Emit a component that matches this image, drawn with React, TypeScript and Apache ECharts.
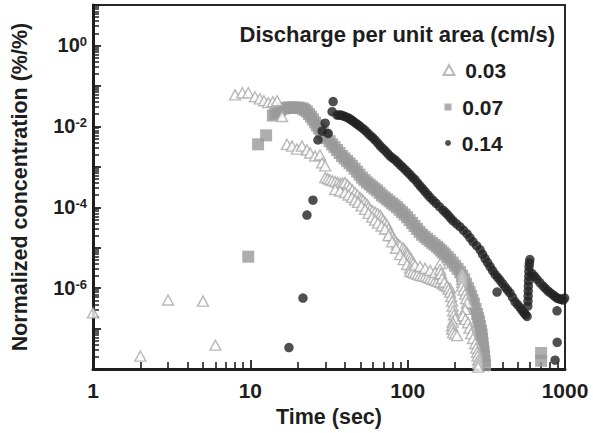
import React, { useEffect, useRef } from "react";
import * as echarts from "echarts";

// ---- data (time in s, normalized concentration in %/%) ----
const seriesNames = ["0.03", "0.07", "0.14"];
const xTickLabels = ["1", "10", "100", "1000"];
const yLabelExponents = [0, -2, -4, -6];
const legendTitle = "Discharge per unit area (cm/s)";
const xAxisTitle = "Time (sec)";
const yAxisTitle = "Normalized concentration (%/%)";

const q003: [number, number][] = [
  [1, 2.45e-7], [2, 2.1e-8], [3, 5.1e-7], [5, 4.8e-7], [6, 3.9e-8],
  [8.0, 0.06], [8.9, 0.0675], [9.7, 0.0675], [10.7, 0.054], [11.5, 0.048], [12.2, 0.043], [13.0, 0.0385], [13.9, 0.0407], [14.8, 0.043], [15.9, 0.0175],
  [17.1, 0.0036], [18.4, 0.00325], [19.8, 0.00275], [21.3, 0.00325], [22.9, 0.0026], [24.0, 0.0022], [25.8, 0.00185], [27.7, 0.00196], [28.6, 0.00125], [29.9, 0.00106],
  [29.9, 5.4e-4], [31.0, 5.1e-4], [32.1, 4.8e-4], [33.3, 4.54e-4], [34.6, 4.3e-4], [35.9, 4.07e-4], [37.2, 3.85e-4], [38.6, 3.96e-4], [40.0, 4.07e-4], [41.5, 3.53e-4], [43.0, 3.07e-4], [44.6, 2.67e-4], [46.3, 2.32e-4], [48.0, 2.01e-4], [49.8, 1.75e-4], [50.9, 1.61e-4], [52.1, 1.48e-4], [53.6, 1.32e-4], [55.2, 1.18e-4], [56.4, 1.02e-4], [57.7, 8.9e-5], [59.9, 8.2e-5], [62.1, 7.55e-5], [64.4, 6.95e-5], [66.8, 6.4e-5], [68.3, 5.5e-5], [69.8, 4.8e-5], [71.9, 4.18e-5], [74.0, 3.64e-5], [75.6, 2.9e-5], [77.3, 2.32e-5], [79.6, 1.96e-5], [82.0, 1.66e-5], [83.8, 1.44e-5], [85.6, 1.25e-5], [87.5, 1.18e-5], [89.5, 1.12e-5], [93.5, 1.0e-5], [95.6, 8.9e-6], [97.7, 8.0e-6], [99.1, 7.3e-6], [100.6, 6.75e-6], [102.8, 6.0e-6], [105.1, 5.4e-6], [106.6, 4.7e-6], [108.2, 4.07e-6],
  [34.6, 2.75e-4], [37.2, 2.53e-4], [40.0, 2.32e-4], [42.1, 2.01e-4], [44.3, 1.75e-4], [46.3, 1.52e-4], [48.4, 1.32e-4], [50.9, 1.08e-4], [53.6, 8.9e-5], [56.4, 7.1e-5], [59.4, 5.7e-5], [62.0, 4.8e-5], [64.8, 4.07e-5], [68.2, 3.44e-5], [71.8, 2.9e-5], [75.6, 2.0e-5], [79.6, 1.4e-5], [84.4, 9.7e-6], [89.5, 6.75e-6], [94.2, 5.1e-6], [99.1, 3.85e-6], [103.6, 3.16e-6], [108.2, 2.6e-6],
  [103.6, 2.6e-6], [107.4, 2.46e-6], [111.4, 2.32e-6], [115.6, 2.2e-6], [119.9, 2.08e-6], [124.4, 2.02e-6], [129, 1.96e-6], [133.8, 1.85e-6], [138.8, 1.75e-6], [144, 1.66e-6], [149.4, 1.57e-6], [155, 1.48e-6], [160.7, 1.4e-6], [166.7, 1.29e-6], [172.9, 1.18e-6], [179.4, 1.09e-6], [186.1, 1.0e-6],
  [111.4, 3.7e-6], [119.9, 3.44e-6], [129, 3.1e-6], [138.8, 2.75e-6], [149.4, 2.45e-6], [160.7, 2.2e-6],
  [160.7, 4.07e-6], [160.7, 2.9e-6], [163, 2.3e-6], [165.5, 1.75e-6], [171, 1.4e-6], [178.1, 1.12e-6], [182, 9.5e-7], [186.1, 8.0e-7], [189, 6.2e-7], [191.6, 4.8e-7], [193, 3.6e-7], [194.4, 2.75e-7], [197, 2.2e-7], [200.2, 1.75e-7], [193, 1.45e-7], [191.6, 1.18e-7], [192, 9.7e-8], [194.4, 8.0e-8], [200, 7.3e-8], [206.1, 6.75e-8],
  [221.8, 2.32e-6], [221.8, 1.95e-6], [221.8, 1.66e-6], [221.8, 1.37e-6], [221.8, 1.12e-6], [226.5, 9.0e-7], [231.7, 7.1e-7], [235, 5.5e-7], [238.6, 4.3e-7], [232, 3.0e-7], [225, 2.08e-7], [233, 1.7e-7], [242.1, 1.4e-7], [247, 1.03e-7], [253, 7.55e-8], [260, 5.7e-8], [268.2, 4.3e-8], [272, 3.3e-8], [276.2, 2.6e-8], [278, 2.1e-8], [280.3, 1.66e-8], [280.3, 1.36e-8], [280.3, 1.12e-8],
];

const q007: [number, number][] = [
  [9.7, 6.0e-6], [11.2, 3.6e-3], [12.6, 6.0e-3],
  [13.9, 0.0185], [14.4, 0.0207], [15.0, 0.0232], [15.5, 0.0253], [16.1, 0.0275], [16.7, 0.0283], [17.4, 0.0291], [18.0, 0.0291], [18.7, 0.0291], [19.4, 0.0291], [20.1, 0.0291], [20.8, 0.0283], [21.6, 0.0275], [22.2, 0.0253], [22.9, 0.0232], [23.6, 0.0201], [24.3, 0.0175], [25.0, 0.0148], [25.8, 0.0125], [26.5, 0.0105], [27.3, 0.0089], [28.1, 0.0078], [29.0, 0.0068], [29.8, 0.0059], [30.7, 0.0051], [31.9, 0.0043], [33.1, 0.0036], [34.3, 0.00306], [35.6, 0.0026], [36.9, 0.00219], [38.3, 0.00185], [39.7, 0.00161], [41.2, 0.0014], [42.7, 0.00122], [44.3, 0.00106], [46.0, 8.98e-4], [47.7, 7.6e-4], [49.5, 6.4e-4], [51.3, 5.4e-4], [53.2, 4.7e-4], [55.2, 4.1e-4], [57.3, 3.65e-4], [59.4, 3.25e-4], [61.6, 2.9e-4], [63.9, 2.6e-4], [66.3, 2.26e-4], [68.7, 1.96e-4], [71.3, 1.75e-4], [74.0, 1.57e-4], [76.7, 1.4e-4], [79.6, 1.25e-4], [82.5, 1.12e-4], [85.6, 1.0e-4], [88.8, 8.7e-5], [92.1, 7.6e-5], [95.5, 6.6e-5], [99.1, 5.7e-5], [102.8, 4.83e-5], [106.7, 4.1e-5], [110.6, 3.45e-5], [114.7, 2.9e-5], [119, 2.47e-5], [123.5, 2.1e-5], [128.1, 1.87e-5], [132.8, 1.66e-5], [137.8, 1.48e-5], [142.9, 1.32e-5], [148.2, 1.18e-5], [153.8, 1.06e-5], [158.4, 9.5e-6], [163.1, 8.5e-6], [167.9, 7.6e-6], [172.9, 6.8e-6], [179.4, 5.9e-6], [186.1, 5.1e-6], [193, 4.3e-6], [200.2, 3.6e-6], [207.7, 3.0e-6], [215.4, 2.5e-6], [221.8, 2.04e-6], [228.4, 1.66e-6], [235.2, 1.29e-6], [242.1, 1.0e-6], [247.5, 8.0e-7], [253, 6.4e-7], [258.6, 5.1e-7], [264.3, 4.1e-7], [270.2, 3.07e-7], [276.2, 2.3e-7], [280.3, 1.86e-7], [284.4, 1.5e-7], [288.6, 1.16e-7], [292.9, 8.9e-8], [295, 7.1e-8], [297.2, 5.7e-8], [299.4, 4.4e-8], [301.6, 3.4e-8], [303.8, 2.7e-8], [306, 2.1e-8], [308.2, 1.6e-8], [310.5, 1.25e-8],
  [705, 2.5e-8], [705, 1.6e-8],
];

const q014: [number, number][] = [
  [17.6, 3.4e-8], [21.6, 5.7e-7], [22.9, 6.4e-5], [25.0, 1.5e-4], [26.9, 4.6e-3], [28.6, 7.6e-3], [29.9, 1.2e-2], [31.2, 6.7e-3], [33.1, 2.3e-2], [33.6, 4.1e-2],
  [35.6, 1.9e-2], [36.6, 1.9e-2], [37.7, 1.9e-2], [38.8, 1.82e-2], [40.0, 1.75e-2], [41.2, 1.66e-2], [42.4, 1.57e-2], [43.3, 1.48e-2], [44.3, 1.4e-2], [45.6, 1.29e-2], [47.0, 1.18e-2], [48.4, 1.09e-2], [49.8, 1.0e-2], [51.7, 8.9e-3], [53.6, 8.0e-3], [55.6, 6.9e-3], [57.7, 6.0e-3], [59.9, 5.25e-3], [62.1, 4.6e-3], [64.4, 3.9e-3], [66.8, 3.3e-3], [69.3, 2.87e-3], [71.8, 2.5e-3], [74.5, 2.15e-3], [77.3, 1.85e-3], [80.2, 1.65e-3], [83.2, 1.48e-3], [86.3, 1.29e-3], [89.5, 1.12e-3], [92.8, 9.8e-4], [96.3, 8.5e-4], [99.9, 7.4e-4], [103.6, 6.4e-4], [107.4, 5.5e-4], [111.4, 4.8e-4], [115.6, 4.0e-4], [119.9, 3.4e-4], [124.4, 2.89e-4], [129, 2.45e-4], [133.8, 2.07e-4], [138.8, 1.75e-4], [145, 1.48e-4], [151.6, 1.25e-4], [159.5, 1.03e-4], [167.9, 8.5e-5], [174.1, 7.4e-5], [180.6, 6.4e-5], [187.4, 5.4e-5], [194.4, 4.6e-5], [204.6, 3.9e-5], [215.3, 3.3e-5], [226.7, 2.69e-5], [238.6, 2.2e-5], [249.3, 1.75e-5], [260.5, 1.4e-5], [274.2, 1.12e-5], [288.6, 8.9e-6], [299.4, 6.9e-6], [310.6, 5.4e-6], [322.1, 4.3e-6], [334.1, 3.4e-6], [346.5, 2.73e-6], [359.4, 2.2e-6], [372.8, 1.86e-6], [386.7, 1.57e-6], [401.1, 1.29e-6], [416.1, 1.06e-6], [431.6, 8.98e-7], [447.7, 7.6e-7], [464.4, 5.9e-7], [481.7, 4.6e-7], [499.7, 3.9e-7], [518.3, 3.3e-7], [533.7, 2.84e-7], [549.5, 2.45e-7], [561.7, 2.21e-7], [574.2, 2.0e-7],
  [580, 3.6e-7], [582, 4.8e-7], [583, 6.4e-7], [584, 8.5e-7], [585, 1.12e-6], [586.5, 1.5e-6], [588, 1.96e-6], [589.5, 2.6e-6], [591, 3.4e-6], [594, 4.2e-6], [598, 5.1e-6],
  [617.8, 2.3e-6], [640.8, 1.95e-6], [664.7, 1.66e-6], [694.5, 1.36e-6], [725.7, 1.12e-6], [752.7, 9.76e-7], [780.8, 8.5e-7], [810, 7.6e-7], [840.3, 6.8e-7], [865.2, 6.2e-7], [890.9, 5.7e-7], [910.7, 5.55e-7], [930.9, 5.4e-7], [951.5, 5.25e-7], [972.5, 5.1e-7], [995, 5.7e-7],
  [890, 2.75e-7], [892, 4.6e-8], [865, 1.66e-8], [370, 8.0e-7],
];

const FONT = '"Liberation Sans", Arial, Helvetica, sans-serif';
const INK = "#1e1e1e";

function minorLogTicks(fromExp: number, toExp: number): number[] {
  const out: number[] = [];
  for (let e = fromExp; e < toExp; e++) {
    for (let k = 2; k <= 9; k++) out.push(e + Math.log10(k));
  }
  return out;
}

export default function App() {
  const ref = useRef<HTMLDivElement>(null);

  useEffect(() => {
    if (!ref.current) return;
    const chart = echarts.init(ref.current, undefined, { renderer: "svg" });

    const labelText = { fontFamily: FONT, fontWeight: "bold" as const, color: INK };

    const legendCommon = {
      orient: "vertical" as const,
      selectedMode: false,
      formatter: " {name}",
      textStyle: { ...labelText, fontSize: 21 },
    };

    const option: any = {
      animation: false,
      backgroundColor: "#ffffff",
      grid: {
        left: 93,
        top: 5,
        right: 28,
        bottom: 59,
        show: true,
        borderColor: "#2a2a2a",
        borderWidth: 2,
        backgroundColor: "transparent",
      },
      title: {
        text: legendTitle,
        right: 33,
        top: 18,
        textStyle: { ...labelText, fontSize: 22 },
      },
      legend: [
        { ...legendCommon, data: [seriesNames[0]], left: 437.5, top: 54.5, itemWidth: 11, itemHeight: 10 },
        { ...legendCommon, data: [seriesNames[1]], left: 439.5, top: 91.5, itemWidth: 7, itemHeight: 7 },
        { ...legendCommon, data: [seriesNames[2]], left: 440, top: 127.5, itemWidth: 6, itemHeight: 6 },
      ],
      xAxis: [
        {
          type: "log",
          logBase: 10,
          min: 1,
          max: 1000,
          name: xAxisTitle,
          nameLocation: "middle",
          nameGap: 31,
          nameTextStyle: { ...labelText, fontSize: 21.5 },
          axisLine: { show: true, onZero: false, lineStyle: { color: INK, width: 3 } },
          axisTick: { show: true, inside: true, length: 9, lineStyle: { color: INK, width: 1.8 } },
          axisLabel: {
            ...labelText,
            fontSize: 21,
            margin: 11,
            formatter: (v: number) => {
              const e = Math.round(Math.log10(v));
              return xTickLabels[e] ?? "";
            },
          },
          splitLine: { show: false },
          minorTick: { show: false },
        },
        {
          type: "value",
          min: 0,
          max: 3,
          position: "bottom",
          axisLine: { show: false, onZero: false },
          axisLabel: { show: false },
          splitLine: { show: false },
          axisTick: {
            show: true,
            inside: true,
            length: 7,
            lineStyle: { color: INK, width: 1.6 },
            customValues: minorLogTicks(0, 3),
          },
        },
      ],
      yAxis: [
        {
          type: "log",
          logBase: 10,
          min: 1e-8,
          max: 10,
          name: yAxisTitle,
          nameLocation: "middle",
          nameGap: 62,
          nameTextStyle: { ...labelText, fontSize: 21.5 },
          axisLine: { show: true, onZero: false, lineStyle: { color: INK, width: 3 } },
          axisTick: { show: true, inside: true, length: 8, lineStyle: { color: INK, width: 1.8 } },
          axisLabel: {
            margin: 6,
            formatter: (v: number) => {
              const e = Math.round(Math.log10(v));
              return yLabelExponents.includes(e) ? `{b|10}{s|${e}}` : "";
            },
            rich: {
              b: { ...labelText, fontSize: 20 },
              s: { ...labelText, fontSize: 13, verticalAlign: "top" },
            },
          },
          splitLine: { show: false },
          minorTick: { show: false },
        },
        {
          type: "value",
          min: -8,
          max: 1,
          position: "left",
          axisLine: { show: false, onZero: false },
          axisLabel: { show: false },
          splitLine: { show: false },
          axisTick: {
            show: true,
            inside: true,
            length: 6,
            lineStyle: { color: INK, width: 1.5 },
            customValues: minorLogTicks(-8, 1),
          },
        },
      ],
      series: [
        {
          name: seriesNames[1],
          type: "scatter",
          xAxisIndex: 0,
          yAxisIndex: 0,
          data: q007,
          symbol: "rect",
          symbolSize: 12,
          itemStyle: { color: "#9a9a9a" },
        },
        {
          name: seriesNames[0],
          type: "scatter",
          xAxisIndex: 0,
          yAxisIndex: 0,
          data: q003,
          symbol: "triangle",
          symbolSize: [11, 10],
          itemStyle: { color: "#ffffff", borderColor: "#a8a8a8", borderWidth: 1.4 },
        },
        {
          name: seriesNames[2],
          type: "scatter",
          xAxisIndex: 0,
          yAxisIndex: 0,
          data: q014,
          symbol: "circle",
          symbolSize: 9.5,
          itemStyle: { color: "#232323" },
        },
      ],
    };

    chart.setOption(option);
    return () => chart.dispose();
  }, []);

  return (
    <div
      ref={ref}
      style={{ position: "fixed", left: 0, top: 0, width: 593, height: 433, background: "#fff" }}
    />
  );
}
